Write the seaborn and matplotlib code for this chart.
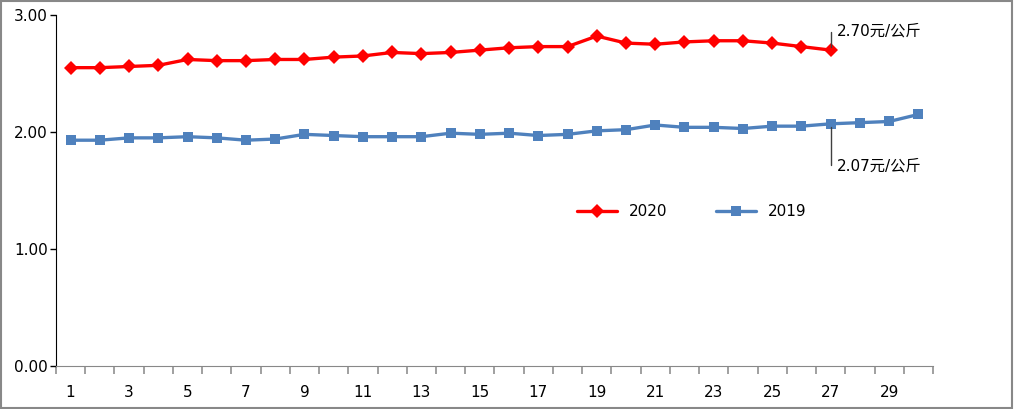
import pandas as pd
import matplotlib.pyplot as plt
import seaborn as sns
from matplotlib.patches import Rectangle

days_2020 = list(range(1, 28))
price_2020 = [2.55, 2.55, 2.56, 2.57, 2.62, 2.61, 2.61, 2.62, 2.62, 2.64,
              2.65, 2.68, 2.67, 2.68, 2.70, 2.72, 2.73, 2.73, 2.82, 2.76,
              2.75, 2.77, 2.78, 2.78, 2.76, 2.73, 2.70]
days_2019 = list(range(1, 31))
price_2019 = [1.93, 1.93, 1.95, 1.95, 1.96, 1.95, 1.93, 1.94, 1.98, 1.97,
              1.96, 1.96, 1.96, 1.99, 1.98, 1.99, 1.97, 1.98, 2.01, 2.02,
              2.06, 2.04, 2.04, 2.03, 2.05, 2.05, 2.07, 2.08, 2.09, 2.15]
label_2020 = "2.70元/公斤"
label_2019 = "2.07元/公斤"

df = pd.concat([
    pd.DataFrame({"day": days_2020, "price": price_2020, "year": "2020"}),
    pd.DataFrame({"day": days_2019, "price": price_2019, "year": "2019"}),
])

sns.set_style("white")
plt.rcParams["font.family"] = ["DejaVu Sans", "Noto Sans CJK SC"]
plt.rcParams["text.color"] = "black"

fig = plt.figure(figsize=(10.14, 4.09), dpi=100)
ax = fig.add_axes([0.0552, 0.1051, 0.8649, 0.8582])

sns.lineplot(data=df, x="day", y="price", hue="year", style="year",
             hue_order=["2020", "2019"], style_order=["2020", "2019"],
             palette={"2020": "#FF0000", "2019": "#4F81BD"},
             markers={"2020": "D", "2019": "s"}, dashes=False,
             linewidth=2.4, markersize=7, markeredgewidth=0, ax=ax)

ax.set_xlim(0.5, 30.5)
ax.set_ylim(0, 3)
ax.set_yticks([0, 1, 2, 3])
ax.set_yticklabels(["0.00", "1.00", "2.00", "3.00"])

# category boundaries as major ticks, odd-day labels as minor ticks
ax.set_xticks([d + 0.5 for d in range(0, 31)])
ax.set_xticklabels([""] * 31)
odd_days = list(range(1, 31, 2))
ax.set_xticks(odd_days, minor=True)
ax.set_xticklabels([str(d) for d in odd_days], minor=True)
ax.tick_params(axis="x", which="major", bottom=True, length=6, width=1.3,
               color="#999999", direction="out")
ax.tick_params(axis="x", which="minor", bottom=False, pad=12, labelsize=11,
               labelcolor="black")
ax.tick_params(axis="y", left=True, length=4, width=1, color="black",
               direction="out", labelsize=11, pad=2, labelcolor="black")
ax.set_xlabel("")
ax.set_ylabel("")

for s in ["top", "right"]:
    ax.spines[s].set_visible(False)
ax.spines["left"].set_color("black")
ax.spines["bottom"].set_color("#888888")

leg = ax.legend(loc="center", bbox_to_anchor=(0.725, 0.44), ncol=2, frameon=False,
                fontsize=11, columnspacing=3.2, handlelength=2.6)

ax.annotate(label_2020, xy=(27, price_2020[26]), xytext=(27.2, 2.86),
            fontsize=11, va="center", ha="left",
            arrowprops=dict(arrowstyle="-", color="#404040", lw=1,
                            connectionstyle="angle,angleA=0,angleB=90,rad=0"))
ax.annotate(label_2019, xy=(27, price_2019[26]), xytext=(27.2, 1.71),
            fontsize=11, va="center", ha="left",
            arrowprops=dict(arrowstyle="-", color="#404040", lw=1,
                            connectionstyle="angle,angleA=0,angleB=90,rad=0"))

fig.patches.append(Rectangle((0.001, 0.002), 0.997, 0.995, transform=fig.transFigure,
                             fill=False, edgecolor="#888888", linewidth=1.5))

fig.savefig("out.png", dpi=100)
